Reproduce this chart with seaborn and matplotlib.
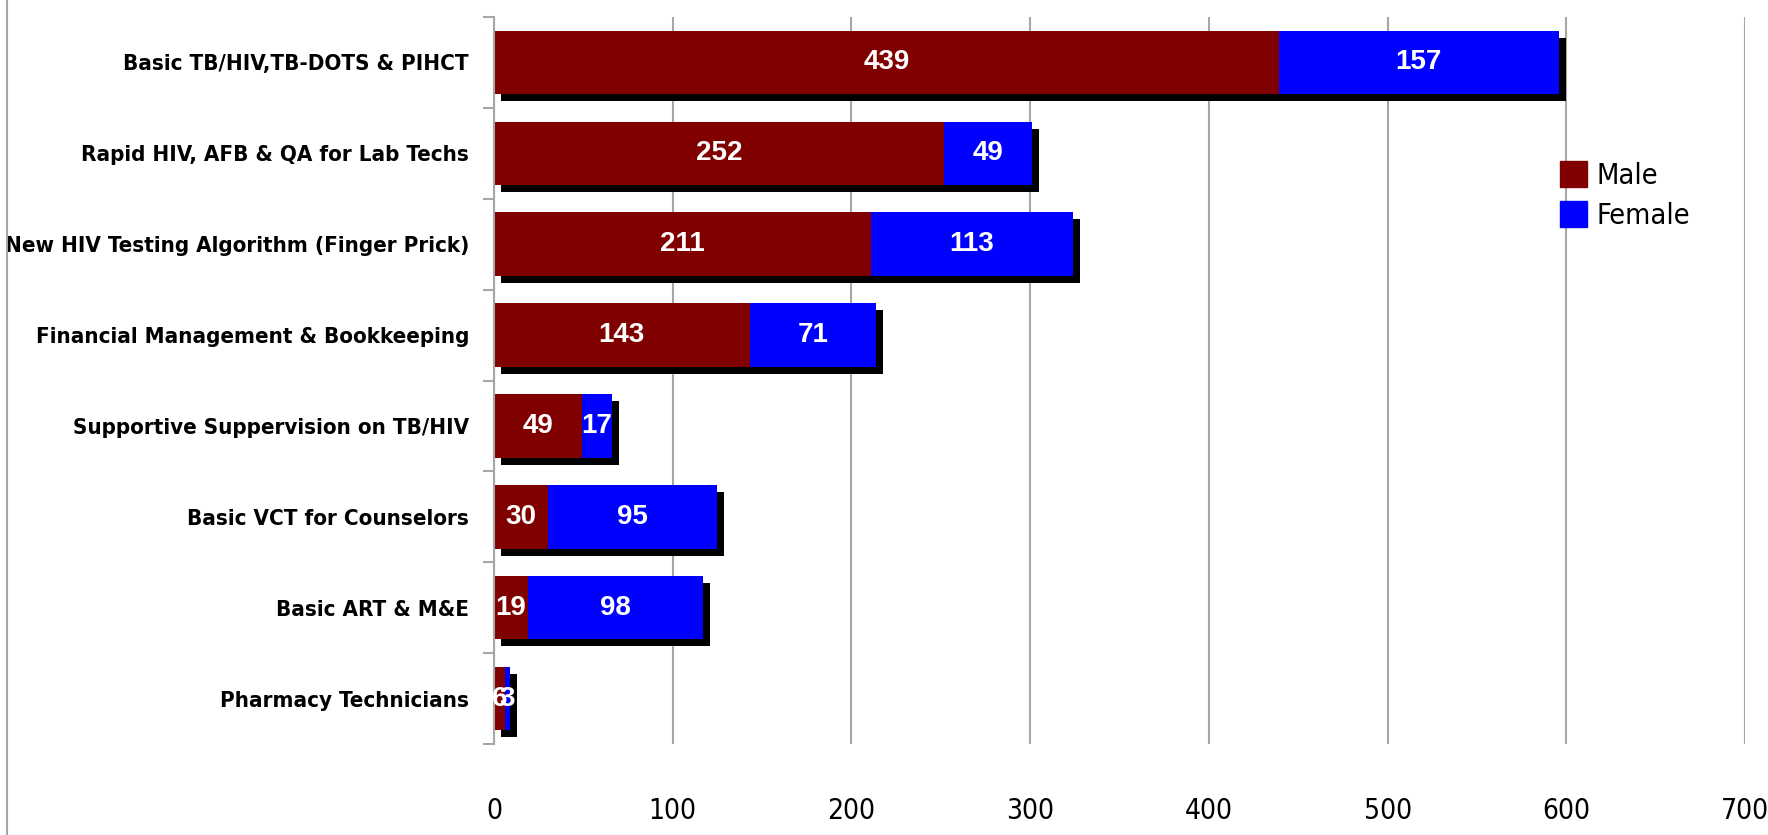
import numpy
import pandas
import seaborn
import matplotlib.pyplot as pyplot
from matplotlib import transforms, font_manager
from matplotlib.font_manager import FontProperties
from matplotlib.patches import Patch
from matplotlib.lines import Line2D

courses = ["Basic TB/HIV,TB-DOTS & PIHCT",
           "Rapid HIV, AFB & QA for Lab Techs",
           "New HIV Testing Algorithm (Finger Prick)",
           "Financial Management & Bookkeeping",
           "Supportive Suppervision on TB/HIV",
           "Basic VCT for Counselors",
           "Basic ART & M&E",
           "Pharmacy Technicians"]
male = [439, 252, 211, 143, 49, 30, 19, 6]
female = [157, 49, 113, 71, 17, 95, 98, 3]
xticks = [0, 100, 200, 300, 400, 500, 600, 700]

seaborn.set_style("white")
pyplot.rcParams['font.family'] = ['Liberation Sans', 'DejaVu Sans']
pyplot.rcParams['text.color'] = "black"
pyplot.rcParams['xtick.color'] = "black"
pyplot.rcParams['ytick.color'] = "black"


def narrow_font(bold):
    # look for a condensed sans face, else plain Liberation Sans
    best = None
    for f in font_manager.fontManager.ttflist:
        is_bold = f.weight in ("bold", 700, "heavy", 800) or (isinstance(f.weight, int) and f.weight >= 600)
        if is_bold != bold:
            continue
        if "italic" in f.style or "oblique" in f.style:
            continue
        narrow = "Narrow" in f.name or "Condensed" in f.name or f.stretch in ("condensed", "semi-condensed")
        if not narrow:
            continue
        rank = 0 if "Liberation" in f.name else (1 if "Arimo" in f.name else 2)
        if best is None or rank < best[0]:
            best = (rank, f.fname)
    if best is None:
        return FontProperties(family="Liberation Sans", weight="bold" if bold else "normal")
    return FontProperties(fname=best[1])


cat_font = narrow_font(True)
num_font = narrow_font(False)

df = pandas.DataFrame({"course": courses, "male": male, "female": female})
df["total"] = df["male"] + df["female"]

fig = pyplot.figure(figsize=(17.68, 8.35), dpi=100)
ax = fig.add_axes([494/1768, 1 - 744/835, (1745 - 494)/1768, (744 - 17)/835])

# shadow behind the stacked bars, shifted a few pixels right and down
seaborn.barplot(data=df, x="total", y="course", color="black", width=0.7,
                saturation=1, linewidth=0, ax=ax)
off = transforms.ScaledTranslation(7/100, -7/100, fig.dpi_scale_trans)
for p in ax.patches:
    p.set_transform(ax.transData + off)

seaborn.barplot(data=df, x="total", y="course", color="#0000ff", width=0.7,
                saturation=1, linewidth=0, ax=ax)
seaborn.barplot(data=df, x="male", y="course", color="#800000", width=0.7,
                saturation=1, linewidth=0, ax=ax)

for i in range(len(courses)):
    ax.text(male[i]/2, i, str(male[i]), color="white", fontsize=20, fontweight="bold",
            family="Liberation Sans", ha="center", va="center", zorder=5)
    ax.text(male[i] + female[i]/2, i, str(female[i]), color="white", fontsize=20,
            fontweight="bold", family="Liberation Sans", ha="center", va="center", zorder=5)

ax.set_xlim(0, 700)
ax.set_ylim(len(courses) - 0.5, -0.5)
ax.set_xticks(xticks)
ax.set_xticklabels([str(t) for t in xticks])
ax.set_yticks(range(len(courses)))
ax.set_yticklabels(courses)
ax.set_yticks(numpy.arange(-0.5, len(courses)), minor=True)
ax.tick_params(axis="y", which="major", length=0, pad=18)
ax.tick_params(axis="y", which="minor", length=8, width=1.5, color="#a6a6a6", left=True)
ax.tick_params(axis="x", length=0, pad=38)
ax.set_xlabel("")
ax.set_ylabel("")

ax.grid(axis="x", color="#a6a6a6", linewidth=1.5)
ax.grid(axis="y", visible=False)
ax.set_axisbelow(True)

ax.spines["top"].set_visible(False)
ax.spines["right"].set_visible(False)
ax.spines["bottom"].set_visible(False)
ax.spines["left"].set_color("#a6a6a6")
ax.spines["left"].set_linewidth(1.5)

# fit font sizes to the widths measured on the reference (pixels)
renderer = fig.canvas.get_renderer()


def fit_size(prop, text, target_px, start=20):
    t = fig.text(0, 0, text, fontproperties=prop, fontsize=start)
    w = t.get_window_extent(renderer).width
    t.remove()
    return start * target_px / w


cat_size = fit_size(cat_font, courses[2], 464)
num_size = fit_size(num_font, "100", 48)
leg_size = fit_size(num_font, "Female", 94)

for lab in ax.get_yticklabels():
    lab.set_fontproperties(cat_font)
    lab.set_fontsize(cat_size)
for lab in ax.get_xticklabels():
    lab.set_fontproperties(num_font)
    lab.set_fontsize(num_size)

handles = [Patch(color="#800000", label="Male"), Patch(color="#0000ff", label="Female")]
leg_prop = num_font.copy()
leg_prop.set_size(leg_size)
ax.legend(handles=handles, loc="upper left", bbox_to_anchor=(1560/1768, 1 - 161/835),
          bbox_transform=fig.transFigure, frameon=False, prop=leg_prop,
          handlelength=0.95, handleheight=1.0, handletextpad=0.3,
          labelspacing=0.4, borderaxespad=0, borderpad=0)

fig.add_artist(Line2D([0.004, 0.004], [0, 1], transform=fig.transFigure,
                      color="#a6a6a6", linewidth=1.5))

fig.savefig("out.png", dpi=100)
